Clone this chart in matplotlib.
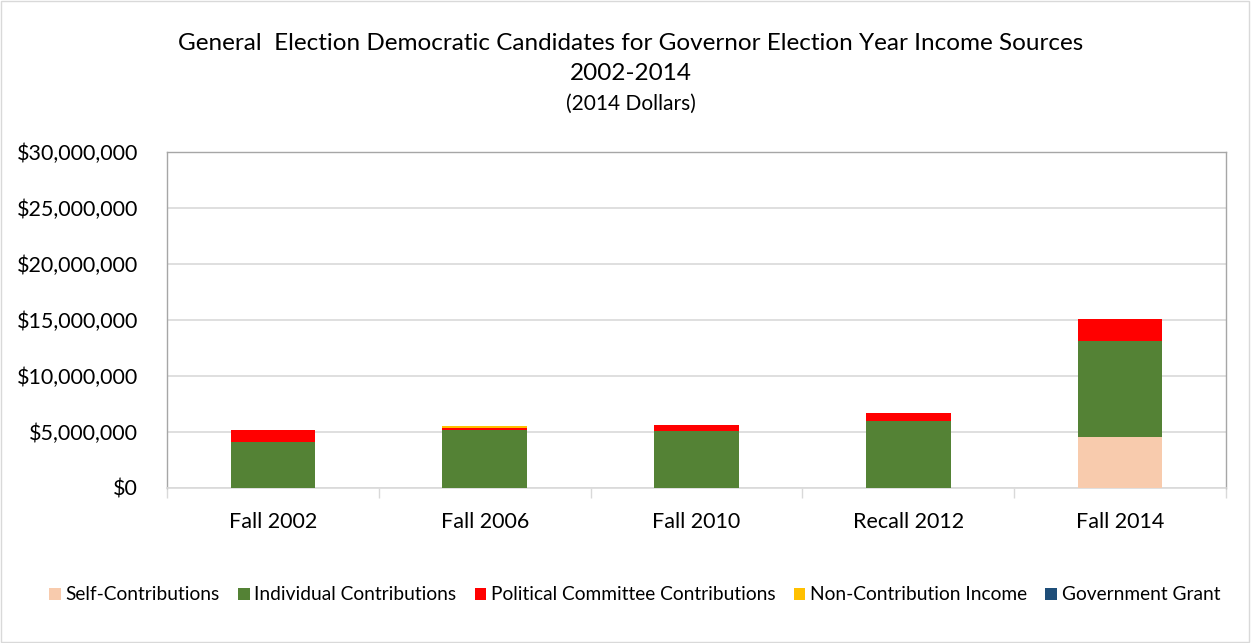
import numpy as np
import matplotlib.pyplot as plt
from matplotlib.ticker import FuncFormatter

plt.rcParams['font.family'] = ['Lato', 'DejaVu Sans']

elections = ['Fall 2002', 'Fall 2006', 'Fall 2010', 'Recall 2012', 'Fall 2014']
self_contrib = [0, 0, 0, 0, 4580000]
individual = [4130000, 5180000, 5120000, 5940000, 8550000]
political = [1020000, 150000, 540000, 800000, 1960000]
non_contrib = [0, 180000, 0, 0, 0]
gov_grant = [0, 0, 0, 0, 0]

series = [
    ('Self-Contributions', self_contrib, '#f8cbad'),
    ('Individual Contributions', individual, '#548235'),
    ('Political Committee Contributions', political, '#ff0000'),
    ('Non-Contribution Income', non_contrib, '#ffc000'),
    ('Government Grant', gov_grant, '#1f4e79'),
]

fig = plt.figure(figsize=(12.52, 6.43), dpi=100)
ax = fig.add_axes([167 / 1252, 1 - 488 / 643, (1226 - 167) / 1252, (488 - 152) / 643])

x = np.arange(len(elections))
bottom = np.zeros(len(elections))
for name, vals, col in series:
    vals = np.array(vals, dtype=float)
    ax.bar(x, vals, bottom=bottom, width=0.40, color=col, label=name, zorder=3)
    bottom += vals

ax.set_xlim(-0.5, len(elections) - 0.5)
ax.set_ylim(0, 30000000)
ax.set_yticks(np.arange(0, 30000001, 5000000))
ax.yaxis.set_major_formatter(FuncFormatter(lambda v, p: '${:,.0f}'.format(v)))
ax.set_xticks(x)
ax.set_xticklabels(elections)
ax.set_xticks(np.arange(-0.5, len(elections), 1), minor=True)
ax.tick_params(axis='x', which='major', length=0, labelsize=15.5, pad=17)
ax.tick_params(axis='x', which='minor', length=7, color='#d9d9d9', width=1)
ax.tick_params(axis='y', length=0, labelsize=15.5, pad=21)
ax.grid(axis='y', color='#d9d9d9', linewidth=1.2, zorder=0)
for s in ['left', 'right', 'top']:
    ax.spines[s].set_color('#a6a6a6')
    ax.spines[s].set_linewidth(1)
ax.spines['bottom'].set_color('#d9d9d9')
ax.spines['bottom'].set_linewidth(1.2)

fig.text(0.504, 1 - 44 / 643, 'General  Election Democratic Candidates for Governor Election Year Income Sources',
         ha='center', va='center', fontsize=17.5)
fig.text(0.504, 1 - 73 / 643, '2002-2014', ha='center', va='center', fontsize=17.5)
fig.text(0.504, 1 - 104 / 643, '(2014 Dollars)', ha='center', va='center', fontsize=15)

fig.legend(loc='center', bbox_to_anchor=(0.507, 1 - 595 / 643), ncol=5, frameon=False,
           fontsize=13.8, handlelength=0.6, handleheight=0.6, handletextpad=0.25, columnspacing=0.95)

fig.patches.append(plt.Rectangle((0.001, 0.001), 0.997, 0.997, transform=fig.transFigure,
                                 fill=False, edgecolor='#d9d9d9', linewidth=1))
fig.savefig('out.png', dpi=100)
